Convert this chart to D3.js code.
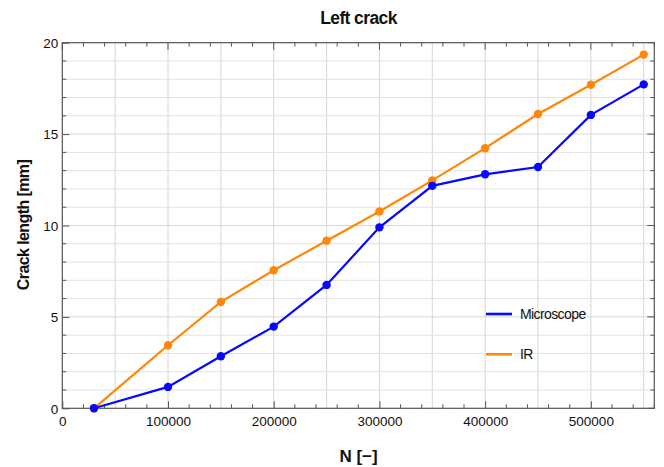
<!DOCTYPE html>
<html><head><meta charset="utf-8">
<script src="https://cdn.jsdelivr.net/npm/d3@7"></script>
<style>body{margin:0;background:#fff}svg{display:block}text{font-family:"Liberation Sans",Arial,sans-serif}</style>
</head><body><svg id="c" width="664" height="467"></svg>
<script>
const cycles = [30000,100000,150000,200000,250000,300000,350000,400000,450000,500000,550000];
const microscope = [0,1.17,2.85,4.47,6.75,9.9,12.17,12.8,13.2,16.05,17.72];
const ir = [0,3.45,5.82,7.55,9.17,10.77,12.47,14.23,16.1,17.7,19.35];
const xTicks = [0,100000,200000,300000,400000,500000];
const yTicks = [0,5,10,15,20];
const seriesNames = ["Microscope","IR"];
const seriesColors = ["#0808ff","#ff8608"];

const svg = d3.select("#c");
const L=62.3,R=654.3,T=42.7,B=408.3;
const x = d3.scaleLinear().domain([0,560000]).range([L,R]);
const y = d3.scaleLinear().domain([0,20]).range([B,T]);
const g = svg.append("g");

// grid
g.selectAll(".vg").data(d3.range(50000,560001,50000)).enter().append("line")
 .attr("x1",d=>x(d)).attr("x2",d=>x(d)).attr("y1",T).attr("y2",B)
 .attr("stroke","#d6d6d6").attr("stroke-width",1);
g.selectAll(".hg").data(d3.range(1,20,1)).enter().append("line")
 .attr("y1",d=>y(d)).attr("y2",d=>y(d)).attr("x1",L).attr("x2",R)
 .attr("stroke",d=>d%5===0?"#d6d6d6":"#e2e2e2").attr("stroke-width",1);

// axes with ticks
const axCol="#555";
const xMinor = d3.range(0,560001,20000);
const yMinor = d3.range(0,20.001,1);
const axB = d3.axisBottom(x).tickValues(xTicks).tickFormat(d3.format("d")).tickSizeInner(-7).tickSizeOuter(0).tickPadding(8);
const axBg = g.append("g").attr("transform",`translate(0,${B})`).call(axB);
const axL = d3.axisLeft(y).tickValues(yTicks).tickSizeInner(-7).tickSizeOuter(0).tickPadding(4);
const axLg = g.append("g").attr("transform",`translate(${L},0)`).call(axL);
[axBg,axLg].forEach(a=>{a.select(".domain").remove();a.selectAll("line").attr("stroke",axCol);
 a.selectAll("text").attr("font-size",13.5).attr("fill","#111").style("font-family","Liberation Sans, Arial, sans-serif");});
axLg.selectAll("text").attr("dy","0.35em");
// minor ticks on all four sides
const tk = g.append("g").attr("stroke",axCol).attr("stroke-width",1);
xMinor.filter(d=>d%100000!==0).forEach(d=>{
 tk.append("line").attr("x1",x(d)).attr("x2",x(d)).attr("y1",B).attr("y2",B-4);
 tk.append("line").attr("x1",x(d)).attr("x2",x(d)).attr("y1",T).attr("y2",T+4);});
xTicks.forEach(d=>{tk.append("line").attr("x1",x(d)).attr("x2",x(d)).attr("y1",T).attr("y2",T+7);});
yMinor.filter(d=>d%5!==0).forEach(d=>{
 tk.append("line").attr("y1",y(d)).attr("y2",y(d)).attr("x1",L).attr("x2",L+4);
 tk.append("line").attr("y1",y(d)).attr("y2",y(d)).attr("x1",R).attr("x2",R-4);});
yTicks.forEach(d=>{tk.append("line").attr("y1",y(d)).attr("y2",y(d)).attr("x1",R).attr("x2",R-7);});
g.append("rect").attr("x",L).attr("y",T).attr("width",R-L).attr("height",B-T)
 .attr("fill","none").attr("stroke",axCol).attr("stroke-width",1.2);

// series
const data=[microscope,ir];
const line=d3.line().x((d,i)=>x(cycles[i])).y(d=>y(d));
[1,0].forEach(k=>{
 g.append("path").datum(data[k]).attr("d",line).attr("fill","none").attr("stroke",seriesColors[k]).attr("stroke-width",2.2);
});
[1,0].forEach(k=>{
 g.selectAll(".p"+k).data(data[k]).enter().append("circle")
  .attr("cx",(d,i)=>x(cycles[i])).attr("cy",d=>y(d)).attr("r",4.2).attr("fill",seriesColors[k]);
});

// legend
seriesNames.forEach((n,i)=>{
 const ly=314+i*40.3;
 g.append("line").attr("x1",486).attr("x2",512).attr("y1",ly).attr("y2",ly).attr("stroke",seriesColors[i]).attr("stroke-width",2.6);
 g.append("text").attr("x",520).attr("y",ly).attr("dy","0.36em").attr("font-size",14).attr("letter-spacing",-0.6).attr("fill","#111").text(n);
});

// titles
svg.append("text").attr("x",358.5).attr("y",24).attr("text-anchor","middle").attr("font-size",17.5).attr("font-weight","bold").attr("letter-spacing",-0.6).attr("fill","#111").text("Left crack");
svg.append("text").attr("x",358.5).attr("y",462).attr("text-anchor","middle").attr("font-size",17).attr("font-weight","bold").attr("fill","#111").text("N [\u2212]");
svg.append("text").attr("transform","translate(29,225) rotate(-90)").attr("text-anchor","middle").attr("font-size",16).attr("font-weight","bold").attr("letter-spacing",-0.6).attr("fill","#111").text("Crack length [mm]");
</script></body></html>
